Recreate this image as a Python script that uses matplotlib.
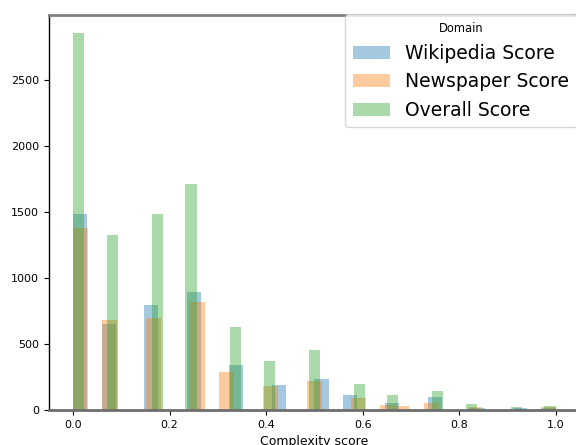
import numpy as np
import matplotlib
matplotlib.use("Agg")
import matplotlib.pyplot as plt

labels = ["Wikipedia Score", "Newspaper Score", "Overall Score"]

wiki_bins = 34
wiki_idx = [0, 2, 5, 8, 11, 14, 17, 19, 22, 25, 28, 31, 33]
wiki_counts = [1481, 648, 792, 891, 338, 187, 232, 111, 51, 96, 15, 13, 15]

news_bins = 33
news_idx = [0, 2, 5, 8, 10, 13, 16, 19, 21, 22, 24, 27, 32]
news_counts = [1375, 679, 694, 815, 285, 179, 217, 88, 36, 28, 51, 20, 20]

overall_bins = 43
overall_idx = [0, 3, 7, 10, 14, 17, 21, 25, 28, 32, 35, 39, 42]
overall_counts = [2850, 1322, 1481, 1708, 626, 368, 452, 194, 111, 141, 43, 20, 28]

xticks = [0.0, 0.2, 0.4, 0.6, 0.8, 1.0]
yticks = [0, 500, 1000, 1500, 2000, 2500]

fig = plt.figure(figsize=(5.76, 4.45), dpi=100)
W, H = 576, 445
ax = fig.add_axes([49 / W, 35 / H, 530.7 / W, 395 / H])

series = [
    (wiki_bins, wiki_idx, wiki_counts, "tab:blue"),
    (news_bins, news_idx, news_counts, "tab:orange"),
    (overall_bins, overall_idx, overall_counts, "tab:green"),
]
for (nb, idx, cnt, col), lab in zip(series, labels):
    edges = np.linspace(0, 1, nb + 1)
    centers = (edges[:-1] + edges[1:]) / 2
    w = np.zeros(nb)
    w[idx] = cnt
    ax.hist(centers, bins=edges, weights=w, alpha=0.4, color=col, label=lab)

ax.set_xlim(-0.05, 1.05)
ax.set_ylim(0, 2988)
ax.set_xticks(xticks)
ax.set_xticklabels([f"{t:.1f}" for t in xticks], fontsize=8)
ax.set_yticks(yticks)
ax.set_yticklabels([str(t) for t in yticks], fontsize=8)
ax.set_xlabel("Complexity score", fontsize=9, labelpad=4)

ax.spines["top"].set_color("#808080")
ax.spines["top"].set_linewidth(2)
ax.spines["bottom"].set_color("#6e6e6e")
ax.spines["bottom"].set_linewidth(2)
ax.spines["left"].set_color("black")
ax.spines["left"].set_linewidth(1)

leg = ax.legend(title="Domain", fontsize=13.5, title_fontsize=8.3,
                loc="upper left", bbox_to_anchor=(345 / W, 1 - 14 / H),
                bbox_transform=fig.transFigure, borderaxespad=0)

fig.savefig("out.png", dpi=100)
